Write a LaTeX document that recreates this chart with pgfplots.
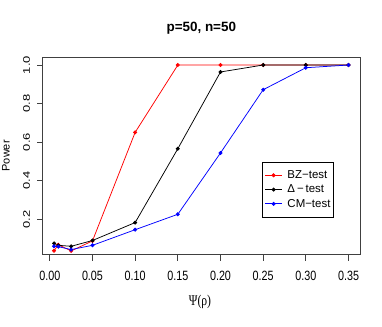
\documentclass[border=0pt]{standalone}
\usepackage{fontspec}
\setmainfont{Liberation Sans}
\newfontfamily\narrowfont[FakeStretch=0.8]{Liberation Sans}
\newfontfamily\serifgreek{Liberation Serif}
\usepackage{graphicx}
\usepackage{pgfplots}
\pgfplotsset{compat=1.18}
\newcommand\sq[1]{\scalebox{1}[0.74]{#1}}
\begin{document}
\begin{tikzpicture}
\useasboundingbox (0,0) rectangle (382bp,327bp);
\begin{axis}[
  at={(42.3bp,73bp)}, anchor=south west,
  scale only axis, width=318bp, height=196.3bp,
  xmin=-0.0088, xmax=0.3638, ymin=0.02, ymax=1.038,
  xtick={0,0.05,0.1,0.15,0.2,0.25,0.3,0.35},
  xticklabels={0.00,0.05,0.10,0.15,0.20,0.25,0.30,0.35},
  ytick={0.2,0.4,0.6,0.8,1.0},
  yticklabels={\sq{0.2},\sq{0.4},\sq{0.6},\sq{0.8},\sq{1.0}},
  xtick pos=bottom, ytick pos=left,
  tick align=outside,
  xtick style={/pgfplots/major tick length=7bp},
  ytick style={/pgfplots/major tick length=5bp},
  tick style={black!75, line width=0.75bp},
  axis line style={black!75, line width=0.8bp},
  xticklabel style={font=\narrowfont\fontsize{13.5}{14}\selectfont, anchor=north, inner sep=0pt, yshift=-12.5bp},
  yticklabel style={font=\fontsize{13}{14}\selectfont, xshift=-8bp, rotate=90, anchor=south, inner sep=0pt},
  xlabel={\scalebox{0.78}[1]{\serifgreek Ψ(ρ)}},
  xlabel style={at={(axis description cs:0.496,-0.245)}, anchor=center, font=\fontsize{15}{16}\selectfont, inner sep=0pt},
  ylabel={Power},
  ylabel style={at={(axis description cs:-0.1145,0.5)}, anchor=center, font=\fontsize{11}{12}\selectfont, inner sep=0pt},
  title={p=50, n=50},
  title style={at={(axis description cs:0.5,1.122)}, anchor=center, font=\bfseries\fontsize{13.5}{14}\selectfont, inner sep=0pt},
  legend style={at={(axis description cs:0.692,0.470)}, anchor=north west, draw=black, line width=0.75bp,
    font=\fontsize{11.5}{12}\selectfont, inner xsep=2bp, inner ysep=6bp,
    nodes={inner sep=1bp, text height=9.3bp, text depth=3bp}, row sep=0pt},
  legend cell align=left,
  every axis plot/.append style={line width=0.75bp, mark=*, mark size=1.6bp},
]
\addplot[red, mark options={fill=red, draw=red}] coordinates {
(0.005,0.037) (0.01,0.068) (0.025,0.036) (0.05,0.088) (0.1,0.651)
(0.15,1.0) (0.2,1.0) (0.25,1.0) (0.3,1.0) (0.35,1.0)};
\addlegendentry{\hspace{4bp}BZ−test\hspace{2bp}}
\addplot[black, mark options={fill=black, draw=black}] coordinates {
(0.005,0.075) (0.01,0.065) (0.025,0.060) (0.05,0.090) (0.1,0.183)
(0.15,0.566) (0.2,0.964) (0.25,1.0) (0.3,1.0) (0.35,1.0)};
\addlegendentry{\hspace{4bp}Δ\,−\,test}
\addplot[blue, mark options={fill=blue, draw=blue}] coordinates {
(0.005,0.060) (0.01,0.058) (0.025,0.043) (0.05,0.065) (0.1,0.146)
(0.15,0.226) (0.2,0.544) (0.25,0.872) (0.3,0.986) (0.35,1.0)};
\addlegendentry{\hspace{4bp}CM−test\hspace{2bp}}
\end{axis}
\end{tikzpicture}
\end{document}
